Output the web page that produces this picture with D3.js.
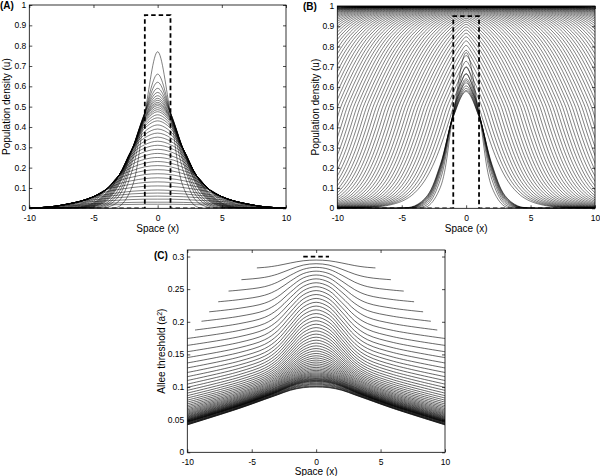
<!DOCTYPE html>
<html><head><meta charset="utf-8">
<script src="https://cdn.jsdelivr.net/npm/d3@7"></script>
<style>body{margin:0;background:#fff}svg{display:block}</style>
</head><body>
<script>
// ---------- data ----------
const xTicks = [-10, -5, 0, 5, 10];
const uTicks = [0, 0.1, 0.2, 0.3, 0.4, 0.5, 0.6, 0.7, 0.8, 0.9, 1];
const uTickLabels = ["0","0.1","0.2","0.3","0.4","0.5","0.6","0.7","0.8","0.9","1"];
const aTicks = [0, 0.05, 0.1, 0.15, 0.2, 0.25, 0.3];
const aTickLabels = ["0","0.05","0.1","0.15","0.2","0.25","0.3"];

// initial condition (dashed) for panels A and B
const patchX = [-10, -1, -1, 1, 1, 10];
const patchU = [0, 0, 0.95, 0.95, 0, 0];
// initial threshold (dashed) for panel C
const threshPatchX = [-1, 1];
const threshPatchA = [0.3, 0.3];

// Panel A: u at |x| = 0..10 for each output time
const gridA = [0, 1, 2, 3, 4, 5, 6, 7, 8, 9, 10];
const curvesA = [
[0.77,0.467,0.104,0.009,0,0,0,0,0,0,0],
[0.66,0.47,0.183,0.037,0.004,0,0,0,0,0,0],
[0.62,0.47,0.224,0.062,0.010,0.001,0,0,0,0,0],
[0.59,0.47,0.243,0.080,0.017,0.002,0,0,0,0,0],
[0.57,0.469,0.261,0.098,0.025,0.004,0.001,0,0,0,0],
[0.554,0.466,0.277,0.117,0.035,0.007,0.001,0,0,0,0],
[0.541,0.459,0.282,0.124,0.040,0.009,0.002,0,0,0,0],
[0.531,0.455,0.286,0.132,0.045,0.011,0.002,0,0,0,0],
[0.521,0.450,0.29,0.140,0.050,0.014,0.003,0,0,0,0],
[0.513,0.447,0.29,0.147,0.056,0.016,0.004,0.001,0,0,0],
[0.505,0.443,0.29,0.155,0.062,0.019,0.004,0.001,0,0,0],
[0.495,0.437,0.29,0.161,0.067,0.022,0.005,0.001,0,0,0],
[0.485,0.431,0.29,0.163,0.072,0.025,0.007,0.001,0,0,0],
[0.475,0.424,0.29,0.163,0.077,0.028,0.008,0.002,0,0,0],
[0.46,0.415,0.29,0.163,0.088,0.035,0.011,0.003,0.001,0,0],
[0.445,0.405,0.29,0.163,0.093,0.042,0.015,0.004,0.001,0,0],
[0.43,0.394,0.29,0.163,0.093,0.049,0.019,0.006,0.002,0,0],
[0.41,0.378,0.29,0.163,0.093,0.055,0.023,0.008,0.002,0,0],
[0.39,0.363,0.29,0.163,0.093,0.057,0.030,0.012,0.004,0.001,0],
[0.37,0.347,0.287,0.163,0.093,0.057,0.035,0.016,0.006,0.002,0],
[0.35,0.330,0.278,0.163,0.093,0.057,0.035,0.021,0.009,0.003,0],
[0.33,0.313,0.268,0.163,0.093,0.057,0.035,0.021,0.010,0.004,0],
[0.31,0.296,0.257,0.163,0.093,0.057,0.035,0.021,0.010,0.004,0],
[0.29,0.278,0.244,0.163,0.093,0.057,0.035,0.021,0.010,0.004,0],
[0.27,0.259,0.230,0.163,0.093,0.057,0.035,0.021,0.010,0.004,0],
[0.25,0.241,0.216,0.163,0.093,0.057,0.035,0.021,0.010,0.004,0],
[0.23,0.222,0.201,0.163,0.093,0.057,0.035,0.021,0.010,0.004,0],
[0.21,0.204,0.185,0.159,0.093,0.057,0.035,0.021,0.010,0.004,0],
[0.19,0.185,0.170,0.147,0.093,0.057,0.035,0.021,0.010,0.004,0],
[0.17,0.166,0.153,0.135,0.093,0.057,0.035,0.021,0.010,0.004,0],
[0.15,0.146,0.136,0.121,0.093,0.057,0.035,0.021,0.010,0.004,0],
[0.13,0.127,0.119,0.107,0.093,0.057,0.035,0.021,0.010,0.004,0],
[0.11,0.108,0.102,0.093,0.081,0.057,0.035,0.021,0.010,0.004,0],
[0.09,0.088,0.084,0.077,0.068,0.057,0.035,0.021,0.010,0.004,0],
[0.075,0.074,0.071,0.065,0.059,0.051,0.035,0.021,0.010,0.004,0],
[0.06,0.059,0.057,0.053,0.048,0.042,0.035,0.021,0.010,0.004,0],
[0.045,0.045,0.043,0.040,0.037,0.033,0.029,0.021,0.010,0.004,0],
[0.03,0.030,0.029,0.027,0.025,0.023,0.021,0.018,0.010,0.004,0],
[0.02,0.020,0.019,0.018,0.017,0.016,0.015,0.013,0.010,0.004,0]
];

// Panel B: early (shrinking) bumps, u at |x| = 0..10
const gridB = [0, 1, 2, 3, 4, 5, 6, 7, 8, 9, 10];
const bumpsB = [
[0.77,0.467,0.104,0.009,0,0,0,0,0,0,0],
[0.70,0.470,0.142,0.019,0.001,0,0,0,0,0,0],
[0.665,0.470,0.166,0.029,0.003,0,0,0,0,0,0],
[0.64,0.467,0.182,0.038,0.004,0,0,0,0,0,0],
[0.62,0.463,0.193,0.045,0.006,0,0,0,0,0,0],
[0.605,0.460,0.202,0.051,0.008,0.001,0,0,0,0,0],
[0.593,0.456,0.207,0.056,0.009,0.001,0,0,0,0,0],
[0.583,0.453,0.213,0.061,0.010,0.001,0,0,0,0,0],
[0.577,0.452,0.217,0.064,0.012,0.001,0,0,0,0,0]
];
// Panel B: invasion front profile, u against distance d behind the u=0.5 point
const frontOffsets = [-8,-7.75,-7.5,-7.25,-7,-6.75,-6.5,-6.25,-6,-5.75,-5.5,-5.25,-5,-4.75,-4.5,-4.25,-4,-3.75,-3.5,-3.25,-3,-2.75,-2.5,-2.25,-2,-1.75,-1.5,-1.25,-1,-0.75,-0.5,-0.25,
  0,0.25,0.5,0.75,1,1.25,1.5,1.75,2,2.25,2.5,2.75,3,3.25,3.5,3.75,4,4.25,4.5,4.75,5,5.25,5.5,5.75,6,6.25,6.5,6.75,7,7.25,7.5,7.75,8,8.25,8.5,8.75,9,9.25,9.5,9.75,10];
const frontProfile = [0.001,0.002,0.002,0.002,0.003,0.004,0.004,0.005,0.007,0.008,0.010,0.012,0.015,0.019,0.023,0.028,0.034,0.042,0.051,0.062,0.076,0.092,0.111,0.133,0.159,0.189,0.223,0.261,0.303,0.349,0.397,0.448,
  0.5,0.537,0.573,0.609,0.643,0.676,0.707,0.737,0.764,0.790,0.813,0.835,0.854,0.871,0.887,0.901,0.913,0.924,0.934,0.942,0.950,0.956,0.962,0.967,0.972,0.975,0.979,0.982,0.984,0.986,0.988,0.990,0.991,0.992,0.993,0.994,0.995,0.996,0.996,0.997,0.997];
// front positions |x| of the u = 0.5 level, one per output time
const frontPositions = [1,1.25,1.5,1.75,2,2.25,2.5,2.75,3,3.25,3.5,3.75,4,4.25,4.5,4.75,5,5.25,5.5,5.75,6,6.25,6.5,6.75,7,7.25,7.5,7.75,8,8.25,8.5,8.75,9,9.25,9.5,9.75,10,10.25,10.5,10.75,11,11.25,11.5,11.75,12,12.25,12.5,12.75,13,13.25,13.5,13.75,14,14.25,14.5,14.75,15,15.25,15.5,15.75,16,16.25,16.5,16.75,17,17.25,17.5,17.75,18,18.5,19,20,21,23];

// Panel C: Allee threshold at |x| = gridC for each output time
const gridC = [0, 1, 2, 3, 4, 6, 10];
const curvesC = [
[0.2946,0.2935,0.2901,0.2861,0.2834,0.2814,0.2794],
[0.2890,0.2869,0.2805,0.2730,0.2681,0.2642,0.2604],
[0.2834,0.2804,0.2713,0.2607,0.2538,0.2484,0.2429],
[0.2776,0.2738,0.2623,0.2491,0.2407,0.2339,0.2268],
[0.2717,0.2672,0.2536,0.2383,0.2285,0.2206,0.2120],
[0.2658,0.2606,0.2453,0.2281,0.2172,0.2083,0.1984],
[0.2598,0.2541,0.2372,0.2186,0.2068,0.1970,0.1859],
[0.2538,0.2476,0.2294,0.2096,0.1972,0.1866,0.1744],
[0.2478,0.2412,0.2220,0.2012,0.1883,0.1770,0.1638],
[0.2418,0.2349,0.2149,0.1934,0.1800,0.1682,0.1541],
[0.2358,0.2286,0.2080,0.1860,0.1724,0.1601,0.1451],
[0.2299,0.2225,0.2014,0.1792,0.1654,0.1527,0.1369],
[0.2241,0.2165,0.1951,0.1727,0.1589,0.1458,0.1293],
[0.2183,0.2107,0.1892,0.1667,0.1528,0.1395,0.1223],
[0.2126,0.2050,0.1834,0.1611,0.1473,0.1337,0.1159],
[0.2071,0.1994,0.1780,0.1559,0.1421,0.1284,0.1100],
[0.2016,0.1940,0.1728,0.1510,0.1374,0.1235,0.1045],
[0.1963,0.1887,0.1678,0.1464,0.1330,0.1190,0.0995],
[0.1911,0.1836,0.1632,0.1421,0.1289,0.1148,0.0949],
[0.1860,0.1787,0.1587,0.1382,0.1252,0.1110,0.0907],
[0.1811,0.1740,0.1545,0.1345,0.1217,0.1074,0.0868],
[0.1764,0.1695,0.1505,0.1310,0.1186,0.1042,0.0832],
[0.1718,0.1651,0.1467,0.1278,0.1156,0.1012,0.0799],
[0.1674,0.1609,0.1432,0.1248,0.1129,0.0985,0.0769],
[0.1631,0.1569,0.1398,0.1220,0.1104,0.0960,0.0741],
[0.1590,0.1531,0.1366,0.1195,0.1081,0.0937,0.0715],
[0.1552,0.1494,0.1336,0.1171,0.1059,0.0915,0.0692],
[0.1514,0.1460,0.1308,0.1148,0.1040,0.0896,0.0670],
[0.1479,0.1427,0.1282,0.1128,0.1022,0.0878,0.0650],
[0.1445,0.1396,0.1257,0.1108,0.1005,0.0861,0.0632],
[0.1413,0.1366,0.1234,0.1091,0.0989,0.0846,0.0615],
[0.1383,0.1338,0.1213,0.1074,0.0975,0.0832,0.0599],
[0.1354,0.1312,0.1192,0.1059,0.0962,0.0819,0.0585],
[0.1327,0.1287,0.1174,0.1045,0.0950,0.0807,0.0572],
[0.1301,0.1264,0.1156,0.1032,0.0939,0.0796,0.0559],
[0.1277,0.1242,0.1140,0.1020,0.0928,0.0786,0.0548],
[0.1255,0.1222,0.1124,0.1008,0.0919,0.0777,0.0538],
[0.1235,0.1203,0.1110,0.0998,0.0910,0.0768,0.0529],
[0.1216,0.1186,0.1098,0.0989,0.0902,0.0760,0.0520],
[0.1199,0.1171,0.1086,0.0980,0.0895,0.0753,0.0512],
[0.1183,0.1156,0.1075,0.0972,0.0888,0.0746,0.0504],
[0.1168,0.1143,0.1065,0.0965,0.0882,0.0740,0.0498],
[0.1155,0.1131,0.1056,0.0958,0.0876,0.0735,0.0492],
[0.1142,0.1119,0.1047,0.0952,0.0871,0.0729,0.0486],
[0.1131,0.1109,0.1040,0.0946,0.0866,0.0725,0.0481],
[0.1121,0.1100,0.1032,0.0941,0.0861,0.0720,0.0476],
[0.1111,0.1091,0.1026,0.0936,0.0857,0.0716,0.0471],
[0.1102,0.1083,0.1020,0.0931,0.0853,0.0713,0.0467],
[0.1094,0.1075,0.1014,0.0927,0.0850,0.0709,0.0463],
[0.1086,0.1068,0.1009,0.0923,0.0847,0.0706,0.0460],
[0.1073,0.1056,0.1000,0.0917,0.0841,0.0700,0.0454],
[0.1057,0.1042,0.0989,0.0909,0.0834,0.0694,0.0446],
[0.1044,0.1030,0.0980,0.0902,0.0829,0.0688,0.0440],
[0.1032,0.1019,0.0972,0.0896,0.0824,0.0683,0.0435],
[0.1016,0.1005,0.0961,0.0888,0.0817,0.0677,0.0428],
[0.1007,0.0996,0.0955,0.0884,0.0813,0.0673,0.0423],
[0.1000,0.0990,0.0950,0.0880,0.0810,0.0670,0.0420]
];
// the first curves in C only cover |x| <= span
const spansC = [4.6, 5.8, 6.8, 7.6, 8.3, 8.9, 9.4];

// ---------- drawing ----------
const FONT = "'Liberation Sans', Arial, Helvetica, sans-serif";
const svg = d3.select("body").append("svg").attr("width", 600).attr("height", 476);
const defs = svg.append("defs");

function mirror(xs, vs) {
  const pts = [];
  for (let i = xs.length - 1; i > 0; i--) pts.push([-xs[i], vs[i]]);
  pts.push([xs[0], vs[0]]);
  for (let i = 1; i < xs.length; i++) pts.push([xs[i], vs[i]]);
  return pts;
}
function frontPoints(X) {
  const left = [];
  for (let j = 0; j < frontOffsets.length; j++) {
    const d = frontOffsets[j];
    if (d > X) break;
    left.push([-(X - d), frontProfile[j]]);
  }
  if (X > frontOffsets[frontOffsets.length - 1]) left.push([0, frontProfile[frontProfile.length - 1]]);
  const right = left.slice(0, left.length - 1).reverse().map(p => [-p[0], p[1]]);
  return left.concat(right);
}
const fmtX = d => (d < 0 ? "-" + (-d) : String(d));

let clipId = 0;
function makePanel(o) {
  const x = d3.scaleLinear().domain([-10, 10]).range([o.l, o.r]);
  const y = d3.scaleLinear().domain(o.yDomain).range([o.b, o.t]);
  const id = "clip" + (clipId++);
  defs.append("clipPath").attr("id", id).append("rect")
    .attr("x", o.l).attr("y", o.t).attr("width", o.r - o.l).attr("height", o.b - o.t);
  const g = svg.append("g");
  const plot = g.append("g").attr("clip-path", `url(#${id})`);
  return {x, y, g, plot, o};
}
function finishPanel(P, yTicks, yLabels, yTitle, yTitleX, xTitleY, label, labelX, labelY) {
  const {x, y, g, o} = P;
  const axFont = sel => sel.attr("font-family", FONT).attr("font-size", 8.5);
  const bx = g.append("g").attr("transform", `translate(0,${o.b})`)
    .call(d3.axisBottom(x).tickValues(xTicks).tickSize(-3).tickPadding(6.2).tickFormat(fmtX)).call(axFont);
  const tx = g.append("g").attr("transform", `translate(0,${o.t})`)
    .call(d3.axisTop(x).tickValues(xTicks).tickSize(-3).tickFormat(""));
  const ly = g.append("g").attr("transform", `translate(${o.l},0)`)
    .call(d3.axisLeft(y).tickValues(yTicks).tickSize(-3).tickPadding(3).tickFormat((d, i) => yLabels[i])).call(axFont);
  ly.selectAll(".tick text").attr("dy", "0.3em");
  const ry = g.append("g").attr("transform", `translate(${o.r},0)`)
    .call(d3.axisRight(y).tickValues(yTicks).tickSize(-3).tickFormat(""));
  [bx, tx, ly, ry].forEach(a => { a.select(".domain").remove(); a.selectAll(".tick line").attr("stroke", "#000").attr("stroke-width", 0.7); a.selectAll("text").attr("fill", "#000"); });
  g.append("rect").attr("x", o.l).attr("y", o.t).attr("width", o.r - o.l).attr("height", o.b - o.t)
    .attr("fill", "none").attr("stroke", "#000").attr("stroke-width", 0.8);
  g.append("text").attr("x", (o.l + o.r) / 2).attr("y", xTitleY).attr("text-anchor", "middle")
    .attr("font-family", FONT).attr("font-size", 10).text("Space (x)");
  g.append("text").attr("transform", `translate(${yTitleX},${(o.t + o.b) / 2}) rotate(-90)`)
    .attr("text-anchor", "middle").attr("font-family", FONT).attr("font-size", 10).html(yTitle);
  g.append("text").attr("x", labelX).attr("y", labelY).attr("font-family", FONT)
    .attr("font-size", 10).attr("font-weight", "bold").text(label);
}

const CURVE_STROKE = "#000";

// Panel A
const PA = makePanel({l: 29.3, r: 286, t: 5, b: 208.3, yDomain: [0, 1]});
{
  const line = d3.line().x(d => PA.x(d[0])).y(d => PA.y(d[1])).curve(d3.curveCatmullRom.alpha(0.5));
  PA.plot.selectAll("path.c").data(curvesA).join("path").attr("class", "c")
    .attr("d", v => line(mirror(gridA, v))).attr("fill", "none")
    .attr("stroke", CURVE_STROKE).attr("stroke-width", 0.5);
  const dl = d3.line().x((d, i) => PA.x(patchX[i])).y((d, i) => PA.y(patchU[i]));
  PA.plot.append("path").attr("d", dl(patchX)).attr("fill", "none").attr("stroke", "#000")
    .attr("stroke-width", 1.8).attr("stroke-dasharray", "4.5,3");
}
finishPanel(PA, uTicks, uTickLabels, "Population density (u)", 10, 231.5, "(A)", 0, 9);

// Panel B
const PB = makePanel({l: 337.3, r: 595, t: 6, b: 208.3, yDomain: [0, 1]});
{
  const lineB = d3.line().x(d => PB.x(d[0])).y(d => PB.y(d[1])).curve(d3.curveCatmullRom.alpha(0.5));
  PB.plot.selectAll("path.b").data(bumpsB).join("path").attr("class", "b")
    .attr("d", v => lineB(mirror(gridB, v))).attr("fill", "none")
    .attr("stroke", CURVE_STROKE).attr("stroke-width", 0.5);
  const lineF = d3.line().x(d => PB.x(d[0])).y(d => PB.y(d[1])).curve(d3.curveBasis);
  PB.plot.selectAll("path.f").data(frontPositions).join("path").attr("class", "f")
    .attr("d", X => lineF(frontPoints(X))).attr("fill", "none")
    .attr("stroke", CURVE_STROKE).attr("stroke-width", 0.5);
  const dl = d3.line().x((d, i) => PB.x(patchX[i])).y((d, i) => PB.y(patchU[i]));
  PB.plot.append("path").attr("d", dl(patchX)).attr("fill", "none").attr("stroke", "#000")
    .attr("stroke-width", 1.8).attr("stroke-dasharray", "4.5,3");
}
finishPanel(PB, uTicks, uTickLabels, "Population density (u)", 319, 231.5, "(B)", 303, 10);

// Panel C
const PC = makePanel({l: 187.3, r: 445, t: 250, b: 452.3, yDomain: [0, 0.31]});
{
  const lineC = d3.line().x(d => PC.x(d[0])).y(d => PC.y(d[1])).curve(d3.curveCatmullRom.alpha(0.5));
  curvesC.forEach((v, i) => {
    let target = PC.plot;
    if (i < spansC.length) {
      const id = "cspan" + i;
      defs.append("clipPath").attr("id", id).append("rect")
        .attr("x", PC.x(-spansC[i])).attr("y", PC.o.t).attr("width", PC.x(spansC[i]) - PC.x(-spansC[i]))
        .attr("height", PC.o.b - PC.o.t);
      target = PC.plot.append("g").attr("clip-path", `url(#${id})`);
    }
    target.append("path").attr("d", lineC(mirror(gridC, v))).attr("fill", "none")
      .attr("stroke", CURVE_STROKE).attr("stroke-width", 0.6);
  });
  const dl = d3.line().x((d, i) => PC.x(threshPatchX[i])).y((d, i) => PC.y(threshPatchA[i]));
  PC.plot.append("path").attr("d", dl(threshPatchX)).attr("fill", "none").attr("stroke", "#000")
    .attr("stroke-width", 1.8).attr("stroke-dasharray", "4.5,3");
}
finishPanel(PC, aTicks, aTickLabels, "Allee threshold (a<tspan dy='-3' font-size='7'>2</tspan><tspan dy='3'>)</tspan>", 165, 475, "(C)", 154, 259);
</script>
</body></html>
